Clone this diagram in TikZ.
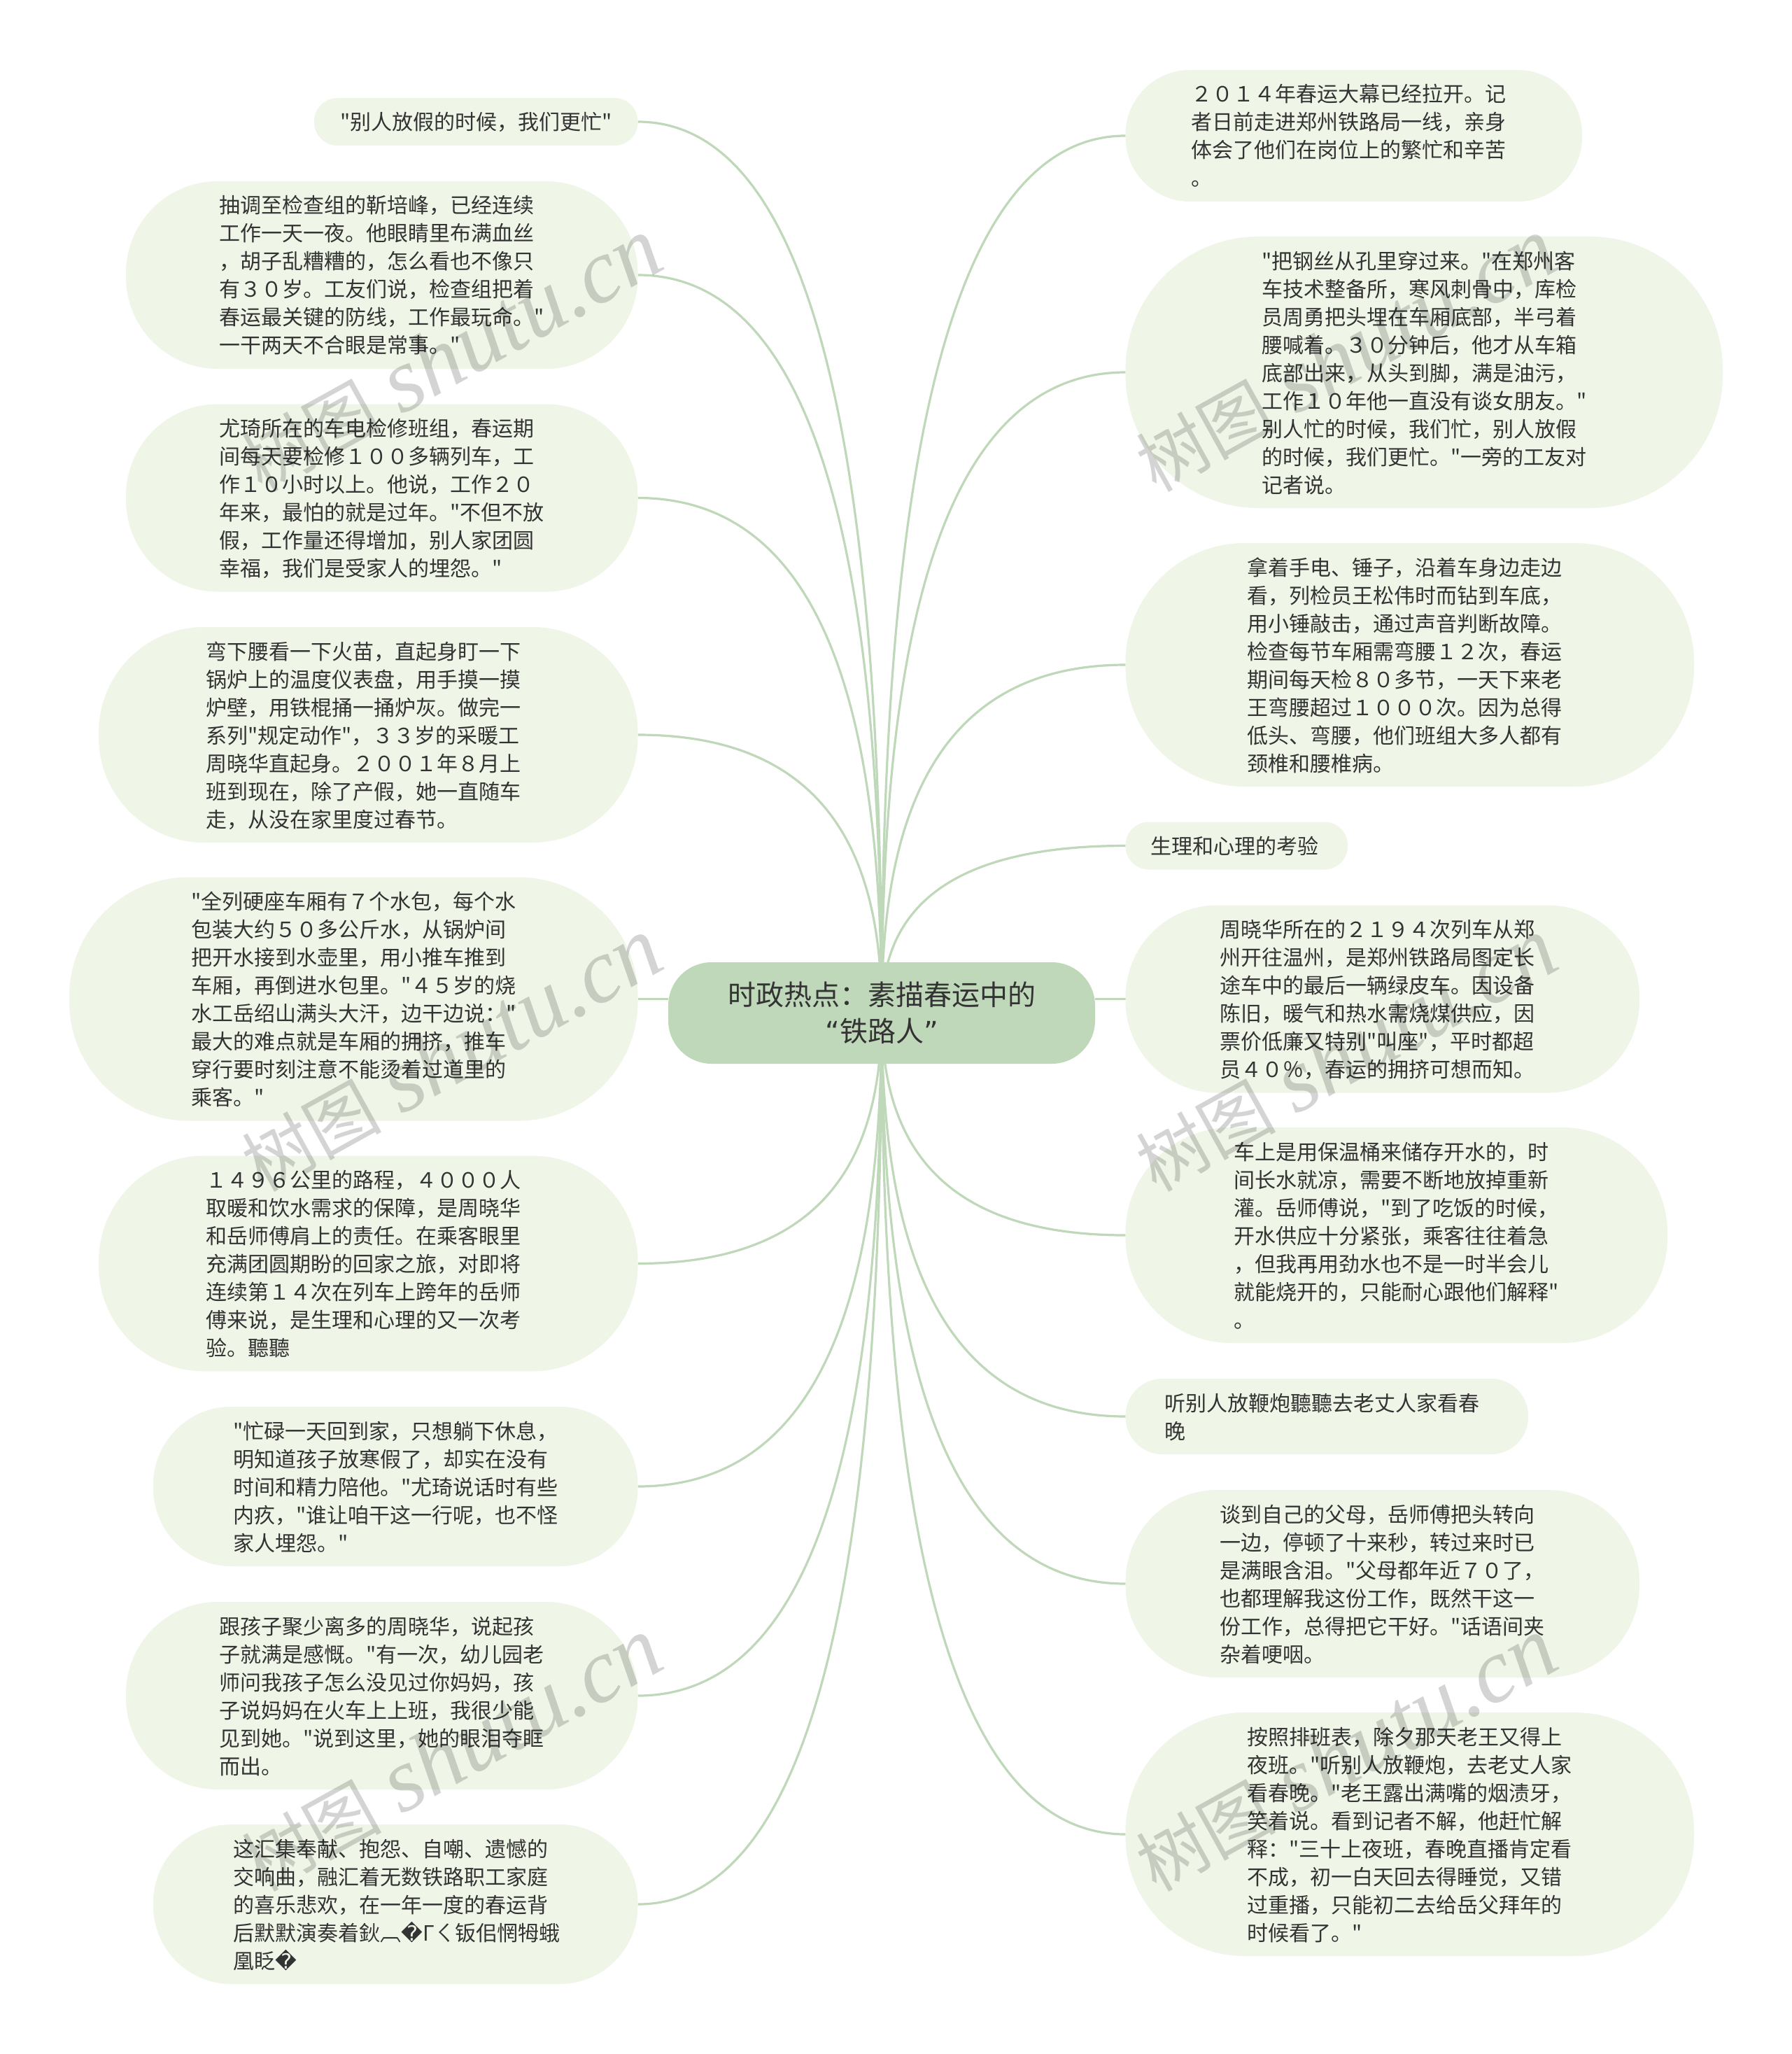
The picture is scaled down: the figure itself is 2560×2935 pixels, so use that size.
\documentclass[tikz,border=0pt]{standalone}
\usepackage{fontspec}
\newfontfamily\cnf{Noto Sans CJK SC}
\newfontfamily\djv{DejaVu Sans}
\newfontfamily\wmlat{Liberation Serif}[ItalicFont=* Italic]
\usetikzlibrary{calc}
\definecolor{linkc}{HTML}{BFD8B9}
\definecolor{nodec}{HTML}{EFF6E8}
\definecolor{txtc}{HTML}{333333}
\pgfdeclarelayer{bg}
\pgfdeclarelayer{wm}
\pgfsetlayers{bg,main,wm}
\tikzset{
  topicbox/.style={fill=nodec,text=txtc,inner sep=0pt,outer sep=0pt,align=left,
    font=\cnf\fontsize{30}{40}\selectfont,
    execute at begin node={\rule{0pt}{36pt}},execute at end node=\strut},
  rootbox/.style={fill=linkc,text=txtc,inner sep=0pt,outer sep=0pt,align=center,
    font=\cnf\fontsize{40}{53}\selectfont,
    minimum width=610pt,minimum height=145pt,rounded corners=62pt},
  link/.style={draw=linkc,line width=3.2pt},
  mark wm/.style={text=black,text opacity=0.17,inner sep=0pt,rotate=29,anchor=base east,
    font=\cnf\fontsize{100}{100}\selectfont}
}
\newcommand{\wmtext}{树图\hspace{28pt}{\wmlat\itshape\fontsize{130}{130}\selectfont shutu.cn}}
% [text width], name, x1, x2, y centre, number of lines, text
\newcommand{\topic}[7][464]{%
  \pgfmathsetmacro{\hh}{#6*40+28}%
  \pgfmathsetmacro{\ww}{#4-#3}%
  \pgfmathsetmacro{\cx}{(#3+#4)/2}%
  \pgfmathsetmacro{\rr}{0.49*\hh}%
  \node[topicbox,text width=#1pt,minimum width=\ww pt,minimum height=\hh pt,rounded corners=\rr pt] (#2) at (\cx,#5) {#7};%
}
\newcommand{\lnk}[2]{%
  \draw[link] let \p1=(#1.#2), \p2=(C.center) in
    (#1.#2) .. controls ({\x1+0.83*(\x2-\x1)},\y1) and (\x2,{0.5*(\y1+\y2)}) .. (C.center);%
}
\begin{document}
\begin{tikzpicture}[x=1pt,y=-1pt]
\begin{pgfonlayer}{bg}
\fill[white] (0,0) rectangle (2560,2935);
\end{pgfonlayer}
\useasboundingbox (0,0) rectangle (2560,2935);

\node[rootbox] (C) at (1260,1447.5) {时政热点：素描春运中的\\[-1pt]{\djv“}铁路人{\djv”}};

\topic[388]{L1}{449}{911.5}{174}{1}{"别人放假的时候，我们更忙"}
\topic{L2}{180}{911.5}{393}{6}{抽调至检查组的靳培峰，已经连续\\工作一天一夜。他眼睛里布满血丝\\，胡子乱糟糟的，怎么看也不像只\\有３０岁。工友们说，检查组把着\\春运最关键的防线，工作最玩命。"\\一干两天不合眼是常事。"}
\topic{L3}{180}{911.5}{711.5}{6}{尤琦所在的车电检修班组，春运期\\间每天要检修１００多辆列车，工\\作１０小时以上。他说，工作２０\\年来，最怕的就是过年。"不但不放\\假，工作量还得增加，别人家团圆\\幸福，我们是受家人的埋怨。"}
\topic{L4}{141}{911.5}{1050}{7}{弯下腰看一下火苗，直起身盯一下\\锅炉上的温度仪表盘，用手摸一摸\\炉壁，用铁棍捅一捅炉灰。做完一\\系列"规定动作"，３３岁的采暖工\\周晓华直起身。２００１年８月上\\班到现在，除了产假，她一直随车\\走，从没在家里度过春节。}
\topic{L5}{99}{911.5}{1427.5}{8}{"全列硬座车厢有７个水包，每个水\\包装大约５０多公斤水，从锅炉间\\把开水接到水壶里，用小推车推到\\车厢，再倒进水包里。"４５岁的烧\\水工岳绍山满头大汗，边干边说："\\最大的难点就是车厢的拥挤，推车\\穿行要时刻注意不能烫着过道里的\\乘客。"}
\topic{L6}{141}{911.5}{1805.5}{7}{１４９６公里的路程，４０００人\\取暖和饮水需求的保障，是周晓华\\和岳师傅肩上的责任。在乘客眼里\\充满团圆期盼的回家之旅，对即将\\连续第１４次在列车上跨年的岳师\\傅来说，是生理和心理的又一次考\\验。聽聽}
\topic{L7}{219}{911.5}{2124}{5}{"忙碌一天回到家，只想躺下休息，\\明知道孩子放寒假了，却实在没有\\时间和精力陪他。"尤琦说话时有些\\内疚，"谁让咱干这一行呢，也不怪\\家人埋怨。"}
\topic{L8}{180}{911.5}{2423}{6}{跟孩子聚少离多的周晓华，说起孩\\子就满是感慨。"有一次，幼儿园老\\师问我孩子怎么没见过你妈妈，孩\\子说妈妈在火车上上班，我很少能\\见到她。"说到这里，她的眼泪夺眶\\而出。}
\topic{L9}{219}{911.5}{2721}{5}{这汇集奉献、抱怨、自嘲、遗憾的\\交响曲，融汇着无数铁路职工家庭\\的喜乐悲欢，在一年一度的春运背\\后默默演奏着鈥︹{\djv �}Гㄑ钣佀惘牳蛾\\凰眨{\djv �}}

\topic{R1}{1608.5}{2261}{194}{4}{２０１４年春运大幕已经拉开。记\\者日前走进郑州铁路局一线，亲身\\体会了他们在岗位上的繁忙和辛苦\\。}
\topic{R2}{1608.5}{2462}{532}{9}{"把钢丝从孔里穿过来。"在郑州客\\车技术整备所，寒风刺骨中，库检\\员周勇把头埋在车厢底部，半弓着\\腰喊着。３０分钟后，他才从车箱\\底部出来，从头到脚，满是油污，\\工作１０年他一直没有谈女朋友。"\\别人忙的时候，我们忙，别人放假\\的时候，我们更忙。"一旁的工友对\\记者说。}
\topic{R3}{1608.5}{2421}{950}{8}{拿着手电、锤子，沿着车身边走边\\看，列检员王松伟时而钻到车底，\\用小锤敲击，通过声音判断故障。\\检查每节车厢需弯腰１２次，春运\\期间每天检８０多节，一天下来老\\王弯腰超过１０００次。因为总得\\低头、弯腰，他们班组大多人都有\\颈椎和腰椎病。}
\topic[246]{R4}{1608.5}{1926}{1208.5}{1}{生理和心理的考验}
\topic{R5}{1608.5}{2343}{1427.5}{6}{周晓华所在的２１９４次列车从郑\\州开往温州，是郑州铁路局图定长\\途车中的最后一辆绿皮车。因设备\\陈旧，暖气和热水需烧煤供应，因\\票价低廉又特别"叫座"，平时都超\\员４０％，春运的拥挤可想而知。}
\topic{R6}{1608.5}{2383}{1765}{7}{车上是用保温桶来储存开水的，时\\间长水就凉，需要不断地放掉重新\\灌。岳师傅说，"到了吃饭的时候，\\开水供应十分紧张，乘客往往着急\\，但我再用劲水也不是一时半会儿\\就能烧开的，只能耐心跟他们解释"\\。}
\topic{R7}{1608.5}{2184}{2024}{2}{听别人放鞭炮聽聽去老丈人家看春\\晚}
\topic{R8}{1608.5}{2343}{2263}{6}{谈到自己的父母，岳师傅把头转向\\一边，停顿了十来秒，转过来时已\\是满眼含泪。"父母都年近７０了，\\也都理解我这份工作，既然干这一\\份工作，总得把它干好。"话语间夹\\杂着哽咽。}
\topic{R9}{1608.5}{2421}{2621}{8}{按照排班表，除夕那天老王又得上\\夜班。"听别人放鞭炮，去老丈人家\\看春晚。"老王露出满嘴的烟渍牙，\\笑着说。看到记者不解，他赶忙解\\释："三十上夜班，春晚直播肯定看\\不成，初一白天回去得睡觉，又错\\过重播，只能初二去给岳父拜年的\\时候看了。"}

\begin{pgfonlayer}{bg}
  \foreach \nm in {L1,L2,L3,L4,L6,L7,L8,L9} {\lnk{\nm}{east}}
  \foreach \nm in {R1,R2,R3,R4,R6,R7,R8,R9} {\lnk{\nm}{west}}
  \draw[link] (L5.east) -- (C.west |- L5.east);
  \draw[link] (R5.west) -- (C.east |- R5.west);
\end{pgfonlayer}

\begin{pgfonlayer}{wm}
  \node[mark wm] (wa) at (956,382)  {\wmtext};
  \node[mark wm] (wb) at (956,1382) {\wmtext};
  \node[mark wm] (wc) at (956,2382) {\wmtext};
  \node[mark wm] (wd) at (2234,382)  {\wmtext};
  \node[mark wm] (we) at (2234,1382) {\wmtext};
  \node[mark wm] (wf) at (2234,2382) {\wmtext};
\end{pgfonlayer}
\end{tikzpicture}
\end{document}
